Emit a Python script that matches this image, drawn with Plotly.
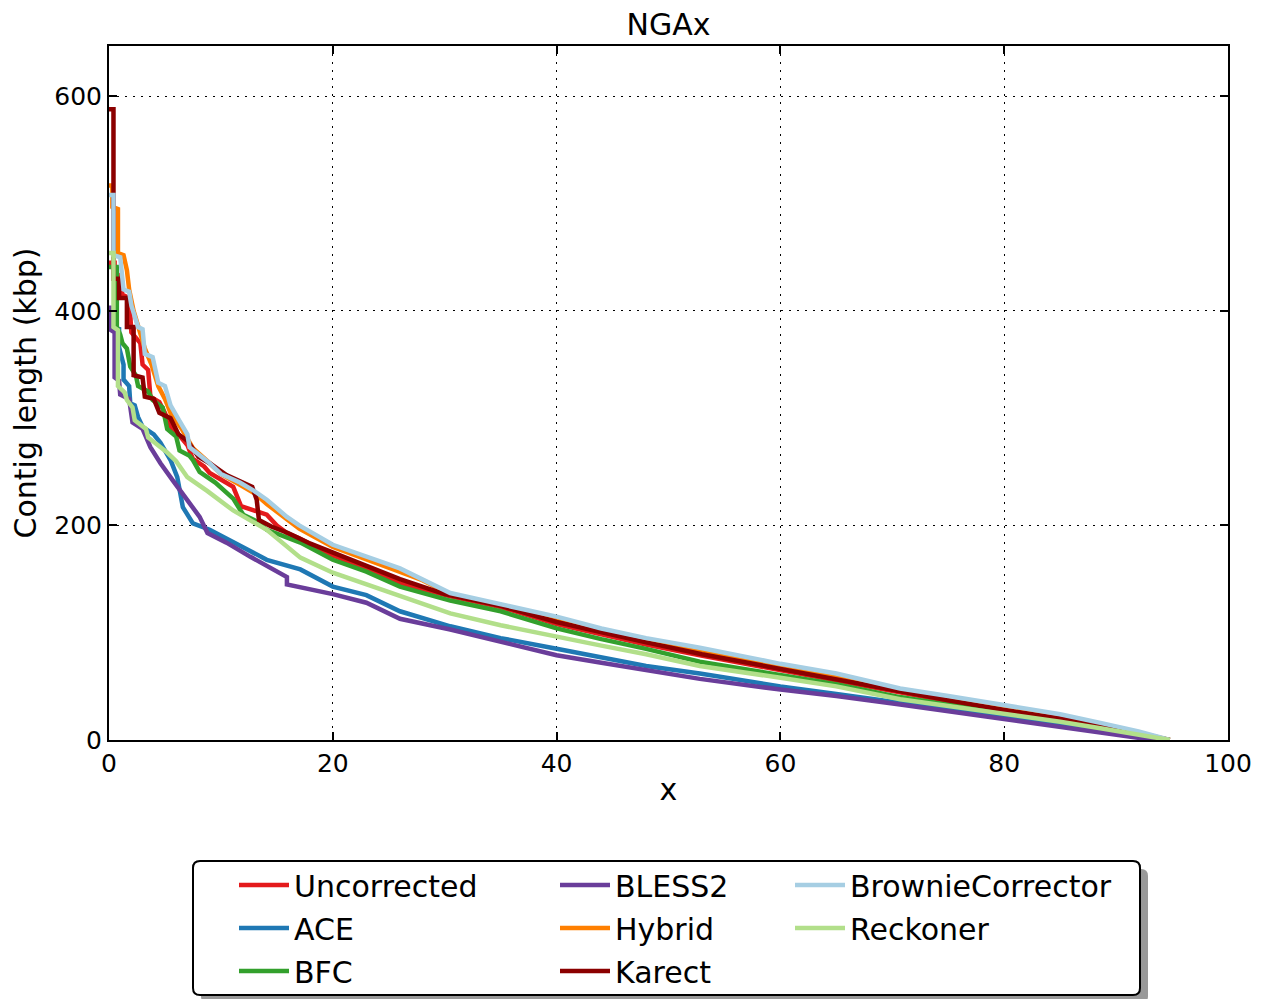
import plotly.graph_objects as go

# ---------------- data ----------------
series_names = ["Uncorrected", "ACE", "BFC", "BLESS2", "Hybrid", "Karect",
                "BrownieCorrector", "Reckoner"]
series_colors = ["#e41a1c", "#1f78b4", "#33a02c", "#6a3d9a", "#ff7f00",
                 "#8b0000", "#a6cee3", "#b2df8a"]

uncorrected_x = [0, 0.5, 0.5, 1.0, 1.2, 1.8, 2.0, 2.8, 3.0, 3.5, 3.7, 4.5, 5, 5.5, 6.2, 7, 7.5, 8.5, 9, 10,
                 11.1, 11.8, 13, 14.1, 15, 15.9, 17, 20, 23, 26, 30.5, 35, 40, 44, 48, 52.8, 60, 65, 70.7,
                 75, 80, 85, 88.6, 92, 94.8]
uncorrected_y = [445, 445, 435, 433, 415, 412, 380, 370, 350, 345, 320, 315, 305, 292, 285, 275, 262, 255, 249, 243,
                 236, 218, 214, 210, 200, 193, 188, 172, 160, 146, 134, 124, 108, 98, 89, 79, 65, 56, 44,
                 36, 27, 19, 12, 5, 0]

ace_x = [0, 0.9, 0.9, 1.3, 1.3, 1.8, 1.9, 2.3, 2.6, 3.0, 4.0, 4.6, 5.5, 6.1, 6.6, 7.5, 9.0, 11.1, 14.1, 17.1,
         20, 23, 26, 30.5, 35, 40, 44, 48, 52.8, 60, 65, 70.7, 75, 80, 85, 88.6, 92, 94.8]
ace_y = [385, 383, 366, 350, 336, 330, 314, 312, 301, 292, 285, 277, 261, 245, 217, 202, 196, 184, 168, 159,
         143, 135, 120, 106, 95, 85, 77, 69, 62, 50, 43, 35, 29, 22, 15, 9, 4, 0]

bfc_x = [0, 0.7, 0.7, 1.0, 1.2, 1.6, 1.9, 2.4, 2.6, 3.5, 3.9, 4.8, 5.2, 6.0, 6.3, 7.2, 7.5, 8.1, 9.5, 11.1,
         12.0, 13, 14.1, 17.1, 20, 23, 26, 30.5, 35, 40, 44, 48, 52.8, 60, 65, 70.7, 75, 80, 85, 88.6, 92, 94.8]
bfc_y = [441, 441, 385, 378, 370, 365, 348, 340, 330, 325, 317, 310, 290, 283, 270, 265, 261, 250, 240, 225,
         210, 205, 196, 184, 168, 157, 143, 130, 120, 104, 94, 85, 73, 61, 52, 40, 33, 26, 18, 11, 5, 0]

bless2_x = [0, 0.2, 0.2, 0.5, 0.5, 0.9, 1.0, 1.8, 2.1, 3.0, 3.7, 4.6, 5.7, 7.0, 8.1, 8.8, 10.5, 12.6, 15.9,
            15.9, 20, 23, 26, 30.5, 35, 40, 44, 48, 52.8, 60, 65, 70.7, 75, 80, 85, 88.6, 92, 94]
bless2_y = [403, 403, 382, 380, 338, 335, 322, 318, 296, 290, 273, 258, 242, 224, 208, 193, 184, 171, 152,
            145, 136, 128, 113, 103, 92, 79, 72, 65, 57, 47, 41, 33, 27, 20, 13, 7, 2, 0]

hybrid_x = [0, 0.3, 0.3, 0.8, 0.8, 1.3, 1.6, 1.8, 2.2, 2.8, 3.2, 3.8, 4.4, 5.0, 5.5, 6.5, 7.5, 9, 10, 11.7,
            13, 14.1, 15.9, 17, 20, 23, 26, 28, 30.5, 35, 40, 44, 48, 52.8, 60, 65, 70.7, 75, 80, 85, 88.6,
            92, 94.8]
hybrid_y = [517, 517, 497, 495, 454, 452, 438, 420, 400, 380, 365, 350, 330, 318, 305, 290, 272, 258, 248, 238,
            230, 220, 205, 197, 180, 168, 157, 149, 136, 126, 113, 102, 93, 84, 69, 60, 47, 40, 31, 23, 15,
            7, 0]

karect_x = [0, 0.4, 0.4, 0.9, 0.9, 1.6, 1.6, 2.2, 2.2, 3.0, 3.2, 4.0, 4.5, 5.5, 6.2, 7.0, 8.0, 9.0, 10.5,
            11.7, 12.8, 13.2, 13.4, 14.5, 16, 18, 20, 23, 26, 30, 35, 40, 44, 48, 53, 60, 65, 70.7, 75, 80,
            85, 88.6, 92, 94.8]
karect_y = [588, 588, 430, 430, 412, 412, 385, 385, 340, 338, 320, 318, 305, 300, 285, 279, 264, 258, 247,
            241, 236, 224, 205, 199, 193, 183, 175, 163, 150, 136, 125, 110, 100, 91, 80, 66, 57, 45, 37, 28,
            20, 13, 6, 0]

brownie_x = [0, 0.4, 0.4, 1.0, 1.3, 1.8, 2.0, 2.6, 3.0, 3.2, 3.9, 4.4, 5.0, 5.5, 6.1, 7.0, 7.2, 8.5, 9, 10,
             11.7, 13, 14.1, 15.9, 17, 20, 23, 26, 30.5, 35, 40, 44, 48, 52.8, 60, 65, 70.7, 75, 80, 85, 88.6,
             92, 94.8]
brownie_y = [508, 508, 452, 450, 420, 418, 405, 385, 383, 360, 357, 333, 330, 312, 301, 285, 273, 262, 258, 248,
             240, 232, 224, 208, 200, 182, 171, 160, 137, 127, 115, 104, 95, 86, 71, 62, 48, 41, 32, 24, 16,
             8, 0]

reckoner_x = [0, 0.4, 0.4, 0.8, 0.8, 1.4, 1.6, 2.1, 2.3, 3.3, 3.5, 4.0, 5.2, 6, 7, 8.8, 11.1, 14.1, 17.1, 20,
              23, 26, 30.5, 35, 40, 44, 48, 52.8, 60, 65, 70.7, 75, 80, 85, 88.6, 92, 94.8]
reckoner_y = [454, 454, 385, 382, 330, 324, 317, 310, 298, 290, 282, 278, 268, 260, 245, 232, 214, 196, 170, 156,
              145, 135, 118, 107, 96, 88, 80, 69, 58, 50, 38, 32, 25, 17, 11, 5, 0]

series_x = [uncorrected_x, ace_x, bfc_x, bless2_x, hybrid_x, karect_x, brownie_x, reckoner_x]
series_y = [uncorrected_y, ace_y, bfc_y, bless2_y, hybrid_y, karect_y, brownie_y, reckoner_y]
legend_of = ["legend", "legend", "legend", "legend2", "legend2", "legend2", "legend3", "legend3"]

x_ticks = [0, 20, 40, 60, 80, 100]
y_ticks = [0, 200, 400, 600]

# ---------------- figure ----------------
# the page body adds an 8px margin, so the figure is 8px smaller and all
# pixel positions below are given in screen coordinates of the reference
OFF = 8
W, H = 1269 - OFF, 999 - OFF
SX0, SX1, SY0, SY1 = 109, 1228, 46, 740          # plot area on screen
L, T = SX0 - OFF, SY0 - OFF
PW, PH = SX1 - SX0, SY1 - SY0
R, B = W - L - PW, H - T - PH
FONT = "DejaVu Sans"


def px(xs):
    return (xs - SX0) / PW


def py(ys):
    return (SY1 - ys) / PH


fig = go.Figure()
for name, col, xs, ys, lg in zip(series_names, series_colors, series_x, series_y, legend_of):
    fig.add_trace(go.Scatter(x=xs, y=ys, mode="lines", name=name, legend=lg,
                             line=dict(color=col, width=4.5), legendgroup=name))

axis_common = dict(showline=True, linecolor="black", linewidth=2, mirror="ticks",
                   ticks="inside", ticklen=8, tickwidth=1.5, tickcolor="black",
                   showgrid=True, gridcolor="black", gridwidth=1.3, griddash="2px,6px",
                   zeroline=False, tickfont=dict(family=FONT, size=25, color="black"))

fig.update_xaxes(range=[0, 100], tickvals=x_ticks, ticktext=[str(v) for v in x_ticks],
                 title=dict(text="x", font=dict(family=FONT, size=30, color="black"), standoff=2),
                 **axis_common)
fig.update_yaxes(range=[0, 647], tickvals=y_ticks, ticktext=[str(v) for v in y_ticks],
                 title=dict(text="Contig length (kbp)", font=dict(family=FONT, size=30, color="black"),
                            standoff=9),
                 **axis_common)

legend_common = dict(font=dict(family=FONT, size=30, color="black"), bgcolor="rgba(0,0,0,0)",
                     borderwidth=0, orientation="v", xanchor="left", yanchor="top",
                     itemwidth=50, tracegroupgap=1, traceorder="grouped")
fig.update_layout(
    width=W, height=H,
    margin=dict(l=L, r=R, t=T, b=B, autoexpand=False),
    paper_bgcolor="white", plot_bgcolor="white",
    font=dict(family=FONT, color="black"),
    title=dict(text="NGAx", x=((SX0 + SX1) / 2 - OFF) / W, xanchor="center", y=1 - (24 - OFF) / H,
               yanchor="middle", font=dict(family=FONT, size=30, color="black")),
    legend=dict(x=px(234), y=py(859), **legend_common),
    legend2=dict(x=px(555), y=py(859), **legend_common),
    legend3=dict(x=px(790), y=py(859), **legend_common),
)

# legend frame with shadow (matplotlib style fancy box)
bx0, by0, bx1, by1 = 193, 861, 1140, 995
r = 7


def rounded(x0, y0, x1, y1, rad):
    rx, ry = rad / PW, rad / PH
    X0, X1, Y0, Y1 = px(x0), px(x1), py(y0), py(y1)
    return (f"M {X0 + rx},{Y0} L {X1 - rx},{Y0} Q {X1},{Y0} {X1},{Y0 - ry} "
            f"L {X1},{Y1 + ry} Q {X1},{Y1} {X1 - rx},{Y1} L {X0 + rx},{Y1} "
            f"Q {X0},{Y1} {X0},{Y1 + ry} L {X0},{Y0 - ry} Q {X0},{Y0} {X0 + rx},{Y0} Z")


fig.add_shape(type="path", xref="paper", yref="paper", path=rounded(bx0 + 8, by0 + 8, bx1 + 8, by1 + 8, r),
              fillcolor="#999999", line=dict(width=0), layer="above")
fig.add_shape(type="path", xref="paper", yref="paper", path=rounded(bx0, by0, bx1, by1, r),
              fillcolor="white", line=dict(color="black", width=2), layer="above")

fig.write_html("out.html")
